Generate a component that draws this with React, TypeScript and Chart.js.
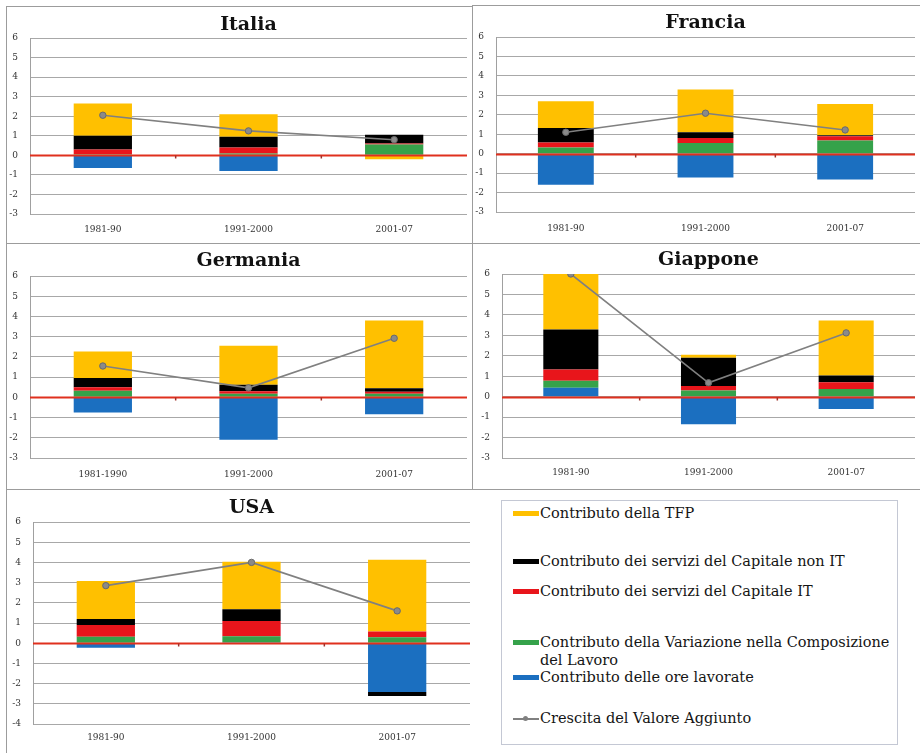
import React, { useEffect, useRef } from "react";
import { Chart, registerables } from "chart.js";

Chart.register(...registerables);

// ---------- data ----------
const SERIES_TFP = "Contributo della TFP";
const SERIES_NONIT = "Contributo dei servizi del Capitale non IT";
const SERIES_IT = "Contributo dei servizi del Capitale IT";
const SERIES_COMP = "Contributo della Variazione nella Composizione del Lavoro";
const SERIES_ORE = "Contributo delle ore lavorate";
const SERIES_VA = "Crescita del Valore Aggiunto";

const catsItalia = ["1981-90", "1991-2000", "2001-07"];
const catsFrancia = ["1981-90", "1991-2000", "2001-07"];
const catsGermania = ["1981-1990", "1991-2000", "2001-07"];
const catsGiappone = ["1981-90", "1991-2000", "2001-07"];
const catsUSA = ["1981-90", "1991-2000", "2001-07"];

const italiaOre = [-0.65, -0.8, 0.03];
const italiaComp = [0.05, 0.1, 0.52];
const italiaIT = [0.25, 0.3, 0.05];
const italiaNonIT = [0.7, 0.55, 0.45];
const italiaTFP = [1.65, 1.15, -0.2];
const italiaVA = [2.05, 1.25, 0.8];

const franciaOre = [-1.6, -1.22, -1.33];
const franciaComp = [0.32, 0.55, 0.68];
const franciaIT = [0.25, 0.25, 0.22];
const franciaNonIT = [0.75, 0.3, 0.05];
const franciaTFP = [1.38, 2.2, 1.6];
const franciaVA = [1.1, 2.08, 1.22];

const germaniaOre = [-0.75, -2.1, -0.84];
const germaniaComp = [0.33, 0.18, 0.18];
const germaniaIT = [0.17, 0.12, 0.1];
const germaniaNonIT = [0.45, 0.32, 0.17];
const germaniaTFP = [1.32, 1.93, 3.35];
const germaniaVA = [1.55, 0.47, 2.92];

const giapponeOre = [0.44, -1.35, -0.6];
const giapponeComp = [0.34, 0.3, 0.38];
const giapponeIT = [0.55, 0.22, 0.33];
const giapponeNonIT = [1.95, 1.38, 0.32];
const giapponeTFP = [2.72, 0.15, 2.7];
const giapponeVA = [6.0, 0.68, 3.12];

const usaOre = [-0.22, 0.03, -2.42];
const usaComp = [0.32, 0.32, 0.3];
const usaIT = [0.58, 0.75, 0.28];
const usaNonIT = [0.3, 0.58, -0.2];
const usaTFP = [1.88, 2.35, 3.55];
const usaVA = [2.85, 4.0, 1.6];

// ---------- styles ----------
const FONT = '"DejaVu Serif", "Liberation Serif", serif';
const C_TFP = "#ffc000";
const C_NONIT = "#000000";
const C_IT = "#e8151b";
const C_COMP = "#35a24a";
const C_ORE = "#1b6fc0";
const C_VA = "#808080";

type PanelSpec = {
  title: string;
  cats: string[];
  ore: number[];
  comp: number[];
  it: number[];
  nonit: number[];
  tfp: number[];
  va: number[];
  yMin: number;
  yMax: number;
  x: number;
  y: number;
  w: number;
  h: number;
  cl: number;
  ct: number;
  cr: number;
  cb: number;
  titleY: number;
  labelY: number;
};

const zeroLinePlugin = {
  id: "zeroLine",
  beforeDatasetDraw(chart: any, args: any) {
    if (args.meta.type !== "line") return;
    const ys = chart.scales.y;
    const xs = chart.scales.x;
    const { left, right } = chart.chartArea;
    const y0 = Math.round(ys.getPixelForValue(0)) + 0.5;
    const ctx = chart.ctx;
    ctx.save();
    ctx.strokeStyle = "#e0301e";
    ctx.lineWidth = 2;
    ctx.beginPath();
    ctx.moveTo(left, y0);
    ctx.lineTo(right, y0);
    ctx.stroke();
    ctx.strokeStyle = "#a0302a";
    ctx.lineWidth = 1.5;
    const n = chart.data.labels.length;
    for (let i = 1; i < n; i++) {
      const bx = (xs.getPixelForValue(i - 1) + xs.getPixelForValue(i)) / 2;
      ctx.beginPath();
      ctx.moveTo(bx, y0);
      ctx.lineTo(bx, y0 + 3);
      ctx.stroke();
    }
    ctx.restore();
  },
};

function Panel({ spec }: { spec: PanelSpec }) {
  const ref = useRef<HTMLCanvasElement | null>(null);
  useEffect(() => {
    if (!ref.current) return;
    const s = spec;
    const YW = 24;
    const TFS = 19;
    const tLine = TFS * 1.2;
    const titleTop = s.titleY - s.y - tLine / 2;
    const titleBottom = s.ct - s.y - titleTop - tLine;
    const xh = s.y + s.h - s.cb;
    const xPad = s.labelY - s.cb - 6;
    const chart = new Chart(ref.current, {
      type: "bar",
      data: {
        labels: s.cats,
        datasets: [
          {
            type: "line",
            label: SERIES_VA,
            data: s.va,
            borderColor: C_VA,
            backgroundColor: "#8a8a8a",
            pointBorderColor: "#6a6a6a",
            pointBackgroundColor: "#8a8a8a",
            borderWidth: 1.6,
            pointRadius: 3.2,
            pointBorderWidth: 1,
            order: 0,
            stack: "va",
          } as any,
          { label: SERIES_ORE, data: s.ore, backgroundColor: C_ORE, stack: "s", order: 1 },
          { label: SERIES_COMP, data: s.comp, backgroundColor: C_COMP, stack: "s", order: 1 },
          { label: SERIES_IT, data: s.it, backgroundColor: C_IT, stack: "s", order: 1 },
          { label: SERIES_NONIT, data: s.nonit, backgroundColor: C_NONIT, stack: "s", order: 1 },
          { label: SERIES_TFP, data: s.tfp, backgroundColor: C_TFP, stack: "s", order: 1 },
        ],
      },
      options: {
        animation: false,
        responsive: false,
        maintainAspectRatio: false,
        datasets: { bar: { barPercentage: 0.4, categoryPercentage: 1 } },
        layout: {
          padding: {
            left: s.cl - s.x - YW,
            right: s.x + s.w - s.cr,
            top: 0,
            bottom: 0,
          },
        },
        plugins: {
          legend: { display: false },
          tooltip: { enabled: false },
          title: {
            display: true,
            text: s.title,
            fullSize: false,
            color: "#111111",
            font: { family: FONT, size: TFS, weight: "bold", lineHeight: 1.2 },
            padding: { top: titleTop, bottom: titleBottom },
          },
        },
        scales: {
          x: {
            stacked: true,
            grid: { display: false, drawTicks: false },
            border: { display: false },
            ticks: {
              color: "#333333",
              font: { family: FONT, size: 9 },
              padding: xPad,
              maxRotation: 0,
              autoSkip: false,
            },
            afterFit: (sc: any) => {
              sc.height = xh;
            },
          },
          y: {
            stacked: true,
            min: s.yMin,
            max: s.yMax,
            ticks: {
              stepSize: 1,
              color: "#333333",
              font: { family: FONT, size: 9 },
              padding: 12,
            },
            grid: {
              color: "#a8a8a8",
              lineWidth: 1,
              drawTicks: false,
            },
            border: { display: true, color: "#a0a0a0", width: 1 },
            afterFit: (sc: any) => {
              sc.width = YW;
            },
          },
        },
      } as any,
      plugins: [zeroLinePlugin],
    });
    return () => chart.destroy();
  }, [spec]);
  return (
    <canvas
      ref={ref}
      width={spec.w}
      height={spec.h}
      style={{ position: "absolute", left: spec.x, top: spec.y, width: spec.w, height: spec.h }}
    />
  );
}

const PANELS: PanelSpec[] = [
  {
    title: "Italia", cats: catsItalia,
    ore: italiaOre, comp: italiaComp, it: italiaIT, nonit: italiaNonIT, tfp: italiaTFP, va: italiaVA,
    yMin: -3, yMax: 6,
    x: 6, y: 6, w: 466, h: 237, cl: 30, ct: 38, cr: 471, cb: 214, titleY: 25, labelY: 230,
  },
  {
    title: "Francia", cats: catsFrancia,
    ore: franciaOre, comp: franciaComp, it: franciaIT, nonit: franciaNonIT, tfp: franciaTFP, va: franciaVA,
    yMin: -3, yMax: 6,
    x: 472, y: 5, w: 448, h: 238, cl: 496, ct: 37, cr: 920, cb: 212, titleY: 23, labelY: 229,
  },
  {
    title: "Germania", cats: catsGermania,
    ore: germaniaOre, comp: germaniaComp, it: germaniaIT, nonit: germaniaNonIT, tfp: germaniaTFP, va: germaniaVA,
    yMin: -3, yMax: 6,
    x: 6, y: 243, w: 466, h: 246, cl: 30, ct: 276, cr: 468, cb: 458, titleY: 261, labelY: 475,
  },
  {
    title: "Giappone", cats: catsGiappone,
    ore: giapponeOre, comp: giapponeComp, it: giapponeIT, nonit: giapponeNonIT, tfp: giapponeTFP, va: giapponeVA,
    yMin: -3, yMax: 6,
    x: 472, y: 243, w: 448, h: 246, cl: 502, ct: 274, cr: 920, cb: 458, titleY: 260, labelY: 473,
  },
  {
    title: "USA", cats: catsUSA,
    ore: usaOre, comp: usaComp, it: usaIT, nonit: usaNonIT, tfp: usaTFP, va: usaVA,
    yMin: -4, yMax: 6,
    x: 6, y: 489, w: 495, h: 264, cl: 33, ct: 522, cr: 470, cb: 724, titleY: 508, labelY: 738,
  },
];

const LEGEND_ITEMS = [
  { label: SERIES_TFP, color: C_TFP, kind: "bar", y: 513 },
  { label: SERIES_NONIT, color: C_NONIT, kind: "bar", y: 561 },
  { label: SERIES_IT, color: C_IT, kind: "bar", y: 591 },
  { label: SERIES_COMP, color: C_COMP, kind: "bar", y: 642 },
  { label: SERIES_ORE, color: C_ORE, kind: "bar", y: 677 },
  { label: SERIES_VA, color: C_VA, kind: "line", y: 718 },
];

function Box({ l, t, r, b, sides = "tlrb", color = "#9c9c9c" }: any) {
  const st: any = {
    position: "absolute",
    left: l,
    top: t,
    width: r - l,
    height: b - t,
    boxSizing: "border-box",
  };
  if (sides.includes("t")) st.borderTop = `1px solid ${color}`;
  if (sides.includes("l")) st.borderLeft = `1px solid ${color}`;
  if (sides.includes("r")) st.borderRight = `1px solid ${color}`;
  if (sides.includes("b")) st.borderBottom = `1px solid ${color}`;
  return <div style={st} />;
}

export default function App() {
  return (
    <div
      style={{
        position: "absolute",
        left: 0,
        top: 0,
        width: 920,
        height: 753,
        background: "#ffffff",
        overflow: "hidden",
      }}
    >
      {PANELS.map((p) => (
        <Panel key={p.title} spec={p} />
      ))}
      <Box l={6} t={6} r={473} b={244} />
      <Box l={472} t={5} r={921} b={244} sides="tl" />
      <Box l={6} t={243} r={473} b={490} />
      <Box l={472} t={243} r={921} b={490} sides="tlb" />
      <Box l={6} t={489} r={502} b={760} sides="tl" />
      <div
        style={{
          position: "absolute",
          left: 501,
          top: 500,
          width: 397,
          height: 245,
          boxSizing: "border-box",
          border: "1px solid #c4c8d4",
          background: "#ffffff",
        }}
      />
      {LEGEND_ITEMS.map((it) => (
        <div
          key={it.label}
          style={{
            position: "absolute",
            left: 513,
            top: it.y - 10,
            width: 380,
            fontFamily: FONT,
            fontSize: 14.5,
            lineHeight: "18px",
            color: "#151515",
            display: "flex",
            alignItems: "flex-start",
          }}
        >
          <div style={{ position: "relative", width: 27, height: 20, flex: "0 0 27px" }}>
            {it.kind === "bar" ? (
              <div
                style={{
                  position: "absolute",
                  left: 0,
                  top: 8,
                  width: 26,
                  height: 5,
                  background: it.color,
                }}
              />
            ) : (
              <>
                <div
                  style={{
                    position: "absolute",
                    left: 0,
                    top: 10,
                    width: 26,
                    height: 1.5,
                    background: it.color,
                  }}
                />
                <div
                  style={{
                    position: "absolute",
                    left: 10,
                    top: 8,
                    width: 5,
                    height: 5,
                    borderRadius: 3,
                    background: it.color,
                  }}
                />
              </>
            )}
          </div>
          <div style={{ paddingTop: 1, maxWidth: 352 }}>{it.label}</div>
        </div>
      ))}
    </div>
  );
}
